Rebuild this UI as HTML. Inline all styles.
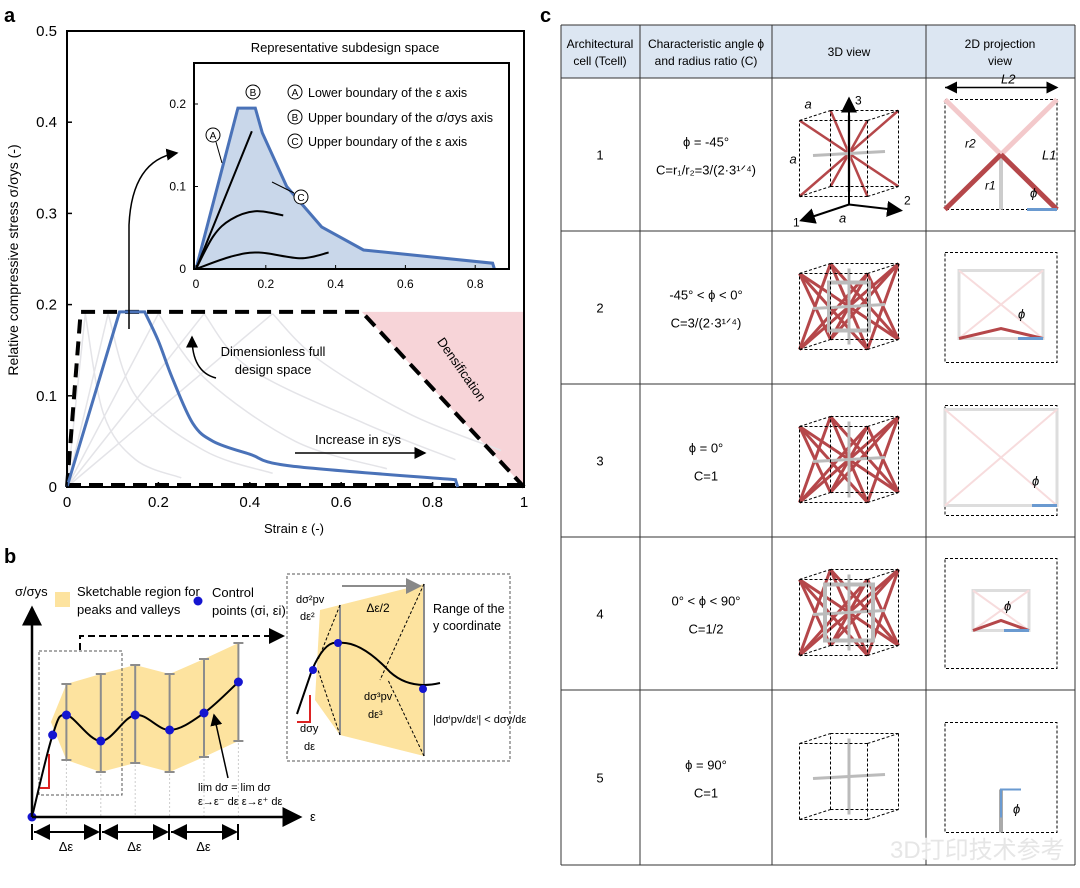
<!DOCTYPE html>
<html><head><meta charset="utf-8"><style>
body{margin:0;background:#fff;width:1080px;height:883px;overflow:hidden;font-family:"Liberation Sans","Noto Sans CJK SC",sans-serif}
svg text{font-family:"Liberation Sans","Noto Sans CJK SC",sans-serif}
</style></head><body>
<svg id="fig" width="1080" height="883" viewBox="0 0 1080 883" xmlns="http://www.w3.org/2000/svg">
<defs>
<marker id="ah" markerWidth="8" markerHeight="8" refX="7" refY="4" orient="auto"><path d="M0,0 L8,4 L0,8 z" fill="#000"/></marker>
<marker id="ahs" markerWidth="8" markerHeight="8" refX="0" refY="4" orient="auto"><path d="M8,0 L0,4 L8,8 z" fill="#000"/></marker>
<marker id="ag" markerWidth="8" markerHeight="8" refX="7" refY="4" orient="auto"><path d="M0,0 L8,4 L0,8 z" fill="#888"/></marker>
</defs>
<text x="4" y="22" font-size="20" font-weight="bold">a</text>
<g id="pa"></g>
<text x="4" y="563" font-size="20" font-weight="bold">b</text>
<g id="pb"></g>
<text x="540" y="22" font-size="20" font-weight="bold">c</text>
<g id="pc"></g>
</svg>
<script>
const NS="http://www.w3.org/2000/svg";
// ---------- panel a data ----------
const mainXTicks=[0,0.2,0.4,0.6,0.8,1];
const mainXTickLabels=["0","0.2","0.4","0.6","0.8","1"];
const mainYTicks=[0,0.1,0.2,0.3,0.4,0.5];
const mainYTickLabels=["0","0.1","0.2","0.3","0.4","0.5"];
const blueEps=[0,0.115,0.17,0.2,0.23,0.275,0.32,0.4,0.49,0.85,0.855];
const blueSig=[0,0.192,0.192,0.16,0.12,0.07,0.05,0.036,0.023,0.008,0];
const designEps=[0,0.03,0.645,1];
const designSig=[0,0.192,0.192,0];
const densEps=[0.645,1,1];
const densSig=[0.192,0.192,0];
const grayLoadEps=[[0,0.04],[0,0.09],[0,0.2],[0,0.3],[0,0.45]];
const grayLoadSig=[[0,0.19],[0,0.19],[0,0.19],[0,0.19],[0,0.19]];
const grayUnloadEps=[[0.04,0.08,0.15,0.25],[0.09,0.15,0.3,0.45],[0.2,0.3,0.5,0.7],[0.3,0.4,0.65,0.85],[0.45,0.55,0.75,0.95]];
const grayUnloadSig=[[0.19,0.08,0.03,0.01],[0.19,0.1,0.04,0.015],[0.19,0.12,0.05,0.02],[0.19,0.13,0.07,0.03],[0.19,0.14,0.08,0.04]];
const insetXTicks=[0,0.2,0.4,0.6,0.8];
const insetXTickLabels=["0","0.2","0.4","0.6","0.8"];
const insetYTicks=[0,0.1,0.2];
const insetYTickLabels=["0","0.1","0.2"];
const insetBlueEps=[0,0.12,0.17,0.19,0.26,0.36,0.48,0.85,0.855];
const insetBlueSig=[0,0.195,0.195,0.165,0.1,0.051,0.023,0.007,0];
const insetLineAEps=[0,0.16];
const insetLineASig=[0,0.167];
const insetLineMEps=[0,0.05,0.1,0.17,0.25];
const insetLineMSig=[0,0.04,0.06,0.07,0.065];
const insetLineLEps=[0,0.1,0.18,0.3,0.38];
const insetLineLSig=[0,0.015,0.02,0.013,0.02];

function el(tag,attrs,parent,text){const e=document.createElementNS(NS,tag);for(const k in attrs)e.setAttribute(k,attrs[k]);if(text!==undefined)e.textContent=text;(parent||document.getElementById('fig')).appendChild(e);return e;}
const pa=document.getElementById('pa');
const X=v=>67+v*457, Y=v=>487-v*912;
const IX=v=>196+v*349, IY=v=>269-v*825;
function pts(xs,ys,fx,fy){return xs.map((x,i)=>fx(x).toFixed(1)+","+fy(ys[i]).toFixed(1)).join(" ");}
function curve(xs,ys,fx,fy){
  const P=xs.map((x,i)=>[fx(x),fy(ys[i])]);let d="M"+P[0][0]+","+P[0][1];
  for(let i=0;i<P.length-1;i++){const p0=P[i-1]||P[i],p1=P[i],p2=P[i+1],p3=P[i+2]||p2;
    d+=` C${p1[0]+(p2[0]-p0[0])/6},${p1[1]+(p2[1]-p0[1])/6} ${p2[0]-(p3[0]-p1[0])/6},${p2[1]-(p3[1]-p1[1])/6} ${p2[0]},${p2[1]}`;}
  return d;}
let e=el('polygon',{points:pts(densEps,densSig,X,Y),fill:'#f7d4d8'},pa);


grayLoadEps.forEach((xs,i)=>{
  let g=el('polyline',{points:pts(xs,grayLoadSig[i],X,Y),fill:'none',stroke:'#e4e4e8','stroke-width':1.5},pa);
  
  
  let u=el('path',{d:curve(grayUnloadEps[i],grayUnloadSig[i],X,Y),fill:'none',stroke:'#e4e4e8','stroke-width':1.5},pa);
  
  
});
e=el('rect',{x:67,y:31,width:457,height:456,fill:'none',stroke:'#000','stroke-width':2},pa);


e=el('polyline',{points:pts(designEps,designSig,X,Y),fill:'none',stroke:'#000','stroke-width':4,'stroke-dasharray':'14 8'},pa);


e=el('line',{x1:X(0),y1:Y(0)-2,x2:X(1),y2:Y(0)-2,stroke:'#000','stroke-width':4,'stroke-dasharray':'14 8'},pa);


e=el('path',{d:"M"+X(blueEps[0])+","+Y(blueSig[0])+" L"+X(blueEps[1])+","+Y(blueSig[1])+" L"+X(blueEps[2])+","+Y(blueSig[2])+curve(blueEps.slice(2,10),blueSig.slice(2,10),X,Y).replace(/^M[^ ]+/,'')+" L"+X(blueEps[10])+","+Y(blueSig[10]),fill:'none',stroke:'#4a72b8','stroke-width':3},pa);


mainXTicks.forEach((t,i)=>{
  el('line',{x1:X(t),y1:487,x2:X(t),y2:482,stroke:'#000','stroke-width':1.5},pa);
  let tl=el('text',{x:X(t),y:507,'font-size':15,'text-anchor':'middle'},pa,mainXTickLabels[i]);
  
  
});
mainYTicks.forEach((t,i)=>{
  el('line',{x1:67,y1:Y(t),x2:72,y2:Y(t),stroke:'#000','stroke-width':1.5},pa);
  let tl=el('text',{x:57,y:Y(t)+5,'font-size':15,'text-anchor':'end'},pa,mainYTickLabels[i]);
  
  
});
e=el('text',{x:294,y:533,'font-size':13,'text-anchor':'middle'},pa,'Strain ε (-)');

e=el('text',{x:0,y:0,'font-size':14,'text-anchor':'middle',transform:'translate(18,260) rotate(-90)'},pa,'Relative compressive stress σ/σys (-)');

e=el('text',{x:345,y:52,'font-size':13,'text-anchor':'middle'},pa,'Representative subdesign space');

e=el('polygon',{points:pts(insetBlueEps,insetBlueSig,IX,IY),fill:'#c9d7ea'},pa);

e=el('polyline',{points:pts(insetBlueEps,insetBlueSig,IX,IY),fill:'none',stroke:'#4a72b8','stroke-width':3},pa);

e=el('rect',{x:194,y:63,width:315,height:206,fill:'none',stroke:'#000','stroke-width':2},pa);

[[insetLineAEps,insetLineASig],[insetLineMEps,insetLineMSig],[insetLineLEps,insetLineLSig]].forEach(([xs,ys])=>{
  let c=el('path',{d:curve(xs,ys,IX,IY),fill:'none',stroke:'#000','stroke-width':2},pa);
  
  
});
insetXTicks.forEach((t,i)=>{
  el('line',{x1:IX(t),y1:269,x2:IX(t),y2:265,stroke:'#000'},pa);
  let tl=el('text',{x:IX(t),y:288,'font-size':12,'text-anchor':'middle'},pa,insetXTickLabels[i]);
  
  
});
insetYTicks.forEach((t,i)=>{
  el('line',{x1:194,y1:IY(t),x2:198,y2:IY(t),stroke:'#000'},pa);
  let tl=el('text',{x:186,y:IY(t)+4,'font-size':12,'text-anchor':'end'},pa,insetYTickLabels[i]);
  
  
});
[['A','Lower boundary of the ε axis',97],['B','Upper boundary of the σ/σys axis',122],['C','Upper boundary of the ε axis',146]].forEach(([l,t,y])=>{
  el('circle',{cx:295,cy:y-5,r:7,fill:'none',stroke:'#000'},pa);
  el('text',{x:295,y:y-1,'font-size':10,'text-anchor':'middle'},pa,l);
  let tl=el('text',{x:308,y:y,'font-size':12.5},pa,t);
  
  
});
[['A',213,135],['B',253,92],['C',301,197]].forEach(([l,x,y])=>{el('circle',{cx:x,cy:y,r:7,fill:'#fff',stroke:'#000'},pa);el('text',{x:x,y:y+4,'font-size':10,'text-anchor':'middle'},pa,l);});
el('line',{x1:216,y1:142,x2:222,y2:163,stroke:'#000'},pa);
el('line',{x1:294,y1:193,x2:272,y2:182,stroke:'#000'},pa);
el('path',{d:'M129,329 L129,225 Q132,160 177,153',fill:'none',stroke:'#000','stroke-width':1.5,'marker-end':'url(#ah)'},pa);
el('path',{d:'M216,378 Q192,372 192,337',fill:'none',stroke:'#000','stroke-width':1.5,'marker-end':'url(#ah)'},pa);
e=el('text',{x:273,y:356,'font-size':13,'text-anchor':'middle'},pa,'Dimensionless full');

el('text',{x:273,y:374,'font-size':13,'text-anchor':'middle'},pa,'design space');
e=el('text',{x:0,y:0,'font-size':13,'text-anchor':'middle',transform:'translate(458,372) rotate(55)'},pa,'Densification');

e=el('text',{x:358,y:444,'font-size':13,'text-anchor':'middle'},pa,'Increase in εys');

el('line',{x1:295,y1:453,x2:425,y2:453,stroke:'#000','stroke-width':1.5,'marker-end':'url(#ah)'},pa);

// ---------- panel b data ----------
const cpEps=[0,0.6,1,2,3,4,5,6];
const cpSig=[0,0.82,1.02,0.76,1.02,0.87,1.04,1.35];
const barEps=[1,2,3,4,5,6];
const barTop=[1.33,1.43,1.52,1.43,1.58,1.74];
const barBot=[0.57,0.45,0.54,0.45,0.6,0.76];
const pb=document.getElementById('pb');
const BX=v=>32+v*34.4, BY=v=>817-v*100;
e=el('polygon',{points:barEps.map((x,i)=>BX(x)+","+BY(barTop[i])).join(" ")+" "+barEps.slice().reverse().map((x,j)=>BX(x)+","+BY(barBot[barBot.length-1-j])).join(" ")+" "+BX(0.55)+","+BY(0.95),fill:'#fde39f'},pb);

barEps.forEach((x,i)=>{
  el('line',{x1:BX(x),y1:BY(barTop[i]),x2:BX(x),y2:817,stroke:'#ccc','stroke-dasharray':'2 2'},pb);
  let b=el('line',{x1:BX(x),y1:BY(barTop[i]),x2:BX(x),y2:BY(barBot[i]),stroke:'#8c8c8c','stroke-width':2},pb);
  
  
  el('line',{x1:BX(x)-5,y1:BY(barTop[i]),x2:BX(x)+5,y2:BY(barTop[i]),stroke:'#8c8c8c','stroke-width':2},pb);
  el('line',{x1:BX(x)-5,y1:BY(barBot[i]),x2:BX(x)+5,y2:BY(barBot[i]),stroke:'#8c8c8c','stroke-width':2},pb);
});
el('rect',{x:39,y:651,width:83,height:144,fill:'none',stroke:'#555','stroke-dasharray':'3 2'},pb);
el('polyline',{points:'40,788 49,788 49,754',fill:'none',stroke:'#d22','stroke-width':2},pb);
e=el('path',{d:curve(cpEps,cpSig,BX,BY),fill:'none',stroke:'#000','stroke-width':2},pb);

cpEps.forEach((x,i)=>{
  let c=el('circle',{cx:BX(x),cy:BY(cpSig[i]),r:4.5,fill:'#1515d0'},pb);
  
  
});
el('line',{x1:32,y1:817,x2:32,y2:608,stroke:'#000','stroke-width':2.5,'marker-end':'url(#ah)'},pb);
el('line',{x1:32,y1:817,x2:300,y2:817,stroke:'#000','stroke-width':2.5,'marker-end':'url(#ah)'},pb);
el('text',{x:15,y:596,'font-size':13},pb,'σ/σys');
el('text',{x:310,y:821,'font-size':13},pb,'ε');
el('rect',{x:55,y:592,width:15,height:15,fill:'#fde39f'},pb);
e=el('text',{x:77,y:596,'font-size':13},pb,'Sketchable region for');

el('text',{x:77,y:614,'font-size':13},pb,'peaks and valleys');
el('circle',{cx:198,cy:601,r:4.5,fill:'#1515d0'},pb);
e=el('text',{x:212,y:597,'font-size':13},pb,'Control');

el('text',{x:212,y:615,'font-size':13},pb,'points (σi, εi)');
el('polyline',{points:'80,650 80,636 283,636',fill:'none',stroke:'#000','stroke-width':2,'stroke-dasharray':'7 4','marker-end':'url(#ah)'},pb);
[[32,100],[100,169],[169,238]].forEach(([a,b])=>{
  el('line',{x1:a+2,y1:832,x2:b-2,y2:832,stroke:'#000','stroke-width':2,'marker-end':'url(#ah)','marker-start':'url(#ahs)'},pb);
  el('line',{x1:a,y1:824,x2:a,y2:840,stroke:'#000','stroke-width':2},pb);
  el('line',{x1:b,y1:824,x2:b,y2:840,stroke:'#000','stroke-width':2},pb);
  el('text',{x:(a+b)/2,y:851,'font-size':13,'text-anchor':'middle'},pb,'Δε');
});
el('text',{x:198,y:791,'font-size':11},pb,'lim  dσ  =  lim  dσ');
el('text',{x:198,y:805,'font-size':11},pb,'ε→ε⁻ dε      ε→ε⁺ dε');
el('line',{x1:228,y1:778,x2:214,y2:715,stroke:'#000','stroke-width':1.5,'marker-end':'url(#ah)'},pb);
el('rect',{x:287,y:574,width:223,height:187,fill:'none',stroke:'#555','stroke-dasharray':'3 2'},pb);
el('polygon',{points:'320,610 340,605 424,584 424,756 340,735 315,700',fill:'#fde39f'},pb);
el('line',{x1:340,y1:605,x2:340,y2:735,stroke:'#8c8c8c','stroke-width':2},pb);
el('line',{x1:424,y1:584,x2:424,y2:756,stroke:'#8c8c8c','stroke-width':2},pb);
el('line',{x1:342,y1:586,x2:420,y2:586,stroke:'#8c8c8c','stroke-width':2,'marker-end':'url(#ag)'},pb);
el('text',{x:378,y:612,'font-size':12,'text-anchor':'middle'},pb,'Δε/2');
el('path',{d:'M297,714 L312,670 Q325,640 338,643 Q360,640 390,672 Q410,690 440,683',fill:'none',stroke:'#000','stroke-width':2},pb);
el('circle',{cx:313,cy:670,r:4,fill:'#1515d0'},pb);
el('circle',{cx:338,cy:643,r:4,fill:'#1515d0'},pb);
el('circle',{cx:423,cy:689,r:4,fill:'#1515d0'},pb);
el('polyline',{points:'297,722 310,722 310,695',fill:'none',stroke:'#d22','stroke-width':2},pb);
el('line',{x1:340,y1:605,x2:318,y2:660,stroke:'#000','stroke-dasharray':'3 2'},pb);
el('line',{x1:424,y1:584,x2:380,y2:680,stroke:'#000','stroke-dasharray':'3 2'},pb);
el('line',{x1:340,y1:735,x2:318,y2:670,stroke:'#000','stroke-dasharray':'3 2'},pb);
el('line',{x1:424,y1:756,x2:388,y2:680,stroke:'#000','stroke-dasharray':'3 2'},pb);
el('text',{x:296,y:603,'font-size':11},pb,'dσ²pv');
el('text',{x:300,y:620,'font-size':11},pb,'dε²');
el('text',{x:364,y:700,'font-size':11},pb,'dσ³pv');
el('text',{x:368,y:718,'font-size':11},pb,'dε³');
el('text',{x:300,y:732,'font-size':11},pb,'dσy');
el('text',{x:304,y:750,'font-size':11},pb,'dε');
el('text',{x:433,y:723,'font-size':11},pb,'|dσⁱpv/dεⁱ| < dσy/dε');
el('text',{x:433,y:613,'font-size':12.5},pb,'Range of the');
el('text',{x:433,y:630,'font-size':12.5},pb,'y coordinate');

// ---------- panel c data ----------
const pc=document.getElementById('pc');
const colX=[561,640,772,926,1075];
const rowY=[25,78,231,384,537,690,865];
const cellIds=["1","2","3","4","5"];
const angleTexts=["ϕ = -45°","-45° < ϕ < 0°","ϕ = 0°","0° < ϕ < 90°","ϕ = 90°"];
const ratioTexts=["C=r₁/r₂=3/(2·3¹ᐟ⁴)","C=3/(2·3¹ᐟ⁴)","C=1","C=1/2","C=1"];
e=el('rect',{x:561,y:25,width:514,height:53,fill:'#dce6f2'},pc);

colX.forEach(x=>el('line',{x1:x,y1:25,x2:x,y2:865,stroke:'#333','stroke-width':1},pc));
rowY.forEach(y=>el('line',{x1:561,y1:y,x2:1075,y2:y,stroke:'#333','stroke-width':1},pc));
[['Architectural','cell (Tcell)',600],['Characteristic angle ϕ','and radius ratio (C)',706],['3D view','',849],['2D projection','view',1000]].forEach(([a,b,x])=>{
  let h=el('text',{x:x,y:b?48:56,'font-size':12,'text-anchor':'middle'},pc,a);
  
  
  if(b)el('text',{x:x,y:65,'font-size':12,'text-anchor':'middle'},pc,b);
});
cellIds.forEach((id,i)=>{
  const cy=(rowY[i+1]+rowY[i+2])/2;
  let t=el('text',{x:600,y:cy+5,'font-size':13,'text-anchor':'middle'},pc,id);
  
  
  t=el('text',{x:706,y:cy-8,'font-size':13,'text-anchor':'middle'},pc,angleTexts[i]);
  
  
  t=el('text',{x:706,y:cy+20,'font-size':13,'text-anchor':'middle'},pc,ratioTexts[i]);
  
  
  const cx=849, sx=68, sy=76, dx=31, dy=-10, x0=cx-(sx+dx)/2, y0=cy-34;
  const F=[[x0,y0],[x0+sx,y0],[x0+sx,y0+sy],[x0,y0+sy]];
  const B=F.map(p=>[p[0]+dx,p[1]+dy]);
  const g=el('g',{},pc);
  
  
  const ccx=x0+(sx+dx)/2, ccy=y0+(sy+dy)/2;
  if(i<4){
    const red=[[F[0],B[2]],[F[1],B[3]],[F[3],B[1]],[F[2],B[0]]];
    if(i>0){red.push([F[0],F[2]],[F[1],F[3]],[B[0],B[2]],[B[1],B[3]],[F[0],B[3]],[F[3],B[0]],[F[1],B[2]],[F[2],B[1]]);}
    red.forEach(([p,q])=>el('line',{x1:p[0],y1:p[1],x2:q[0],y2:q[1],stroke:'#b5474a','stroke-width':i===0?2.5:3},g));
    if(i===1||i===3){const m=i===1?14:10;el('rect',{x:ccx-sx/2+m,y:ccy-sy/2+m,width:sx-2*m,height:sy-2*m,fill:'none',stroke:'#bbb','stroke-width':4},g);}
  }
  el('line',{x1:ccx,y1:ccy-38,x2:ccx,y2:ccy+38,stroke:'#bbb','stroke-width':3},g);
  el('line',{x1:ccx-36,y1:ccy+2,x2:ccx+36,y2:ccy-2,stroke:'#bbb','stroke-width':3},g);
  for(let k=0;k<4;k++){el('line',{x1:F[k][0],y1:F[k][1],x2:F[(k+1)%4][0],y2:F[(k+1)%4][1],stroke:'#000','stroke-dasharray':'3 2'},g);
    el('line',{x1:B[k][0],y1:B[k][1],x2:B[(k+1)%4][0],y2:B[(k+1)%4][1],stroke:'#000','stroke-dasharray':'3 2'},g);
    el('line',{x1:F[k][0],y1:F[k][1],x2:B[k][0],y2:B[k][1],stroke:'#000','stroke-dasharray':'3 2'},g);}
  if(i===0){
    el('line',{x1:ccx,y1:y0+sy+8,x2:ccx,y2:y0-22,stroke:'#000','stroke-width':2,'marker-end':'url(#ah)'},g);
    el('line',{x1:ccx,y1:y0+sy+8,x2:ccx+52,y2:y0+sy+14,stroke:'#000','stroke-width':2,'marker-end':'url(#ah)'},g);
    el('line',{x1:ccx,y1:y0+sy+8,x2:ccx-48,y2:y0+sy+24,stroke:'#000','stroke-width':2,'marker-end':'url(#ah)'},g);
    el('text',{x:ccx+6,y:y0-16,'font-size':12},g,'3');
    el('text',{x:ccx+55,y:y0+sy+8,'font-size':12},g,'2');
    el('text',{x:ccx-56,y:y0+sy+30,'font-size':12},g,'1');
    el('text',{x:x0+5,y:y0-12,'font-size':13,'font-style':'italic'},g,'a');
    el('text',{x:x0-10,y:y0+sy/2+5,'font-size':13,'font-style':'italic'},g,'a');
    el('text',{x:ccx-10,y:y0+sy+26,'font-size':13,'font-style':'italic'},g,'a');
  }
  const g2=el('g',{},pc);
  
  
  const px=945, py=cy-55, pw=112, ph=110;
  el('rect',{x:px,y:py,width:pw,height:ph,fill:'none',stroke:'#000','stroke-dasharray':'3 2'},g2);
  if(i===0){el('line',{x1:px,y1:py,x2:px+pw,y2:py+ph,stroke:'#f3c9cb','stroke-width':5},g2);
    el('line',{x1:px+pw,y1:py,x2:px+pw/2,y2:py+ph/2,stroke:'#f3c9cb','stroke-width':5},g2);
    el('line',{x1:px+pw/2,y1:py+ph/2,x2:px+pw/2,y2:py+ph,stroke:'#ccc','stroke-width':4},g2);
    el('line',{x1:px,y1:py+ph,x2:px+pw/2,y2:py+ph/2,stroke:'#b5474a','stroke-width':5},g2);
    el('line',{x1:px+pw/2,y1:py+ph/2,x2:px+pw,y2:py+ph,stroke:'#b5474a','stroke-width':5},g2);
    el('line',{x1:px+pw-30,y1:py+ph,x2:px+pw,y2:py+ph,stroke:'#6a9ad0','stroke-width':3},g2);
    el('line',{x1:px,y1:py-12,x2:px+pw,y2:py-12,stroke:'#000','stroke-width':1.5,'marker-end':'url(#ah)','marker-start':'url(#ahs)'},g2);
    el('text',{x:px+pw/2,y:py-16,'font-size':13,'font-style':'italic'},g2,'L2');
    el('text',{x:px+pw-15,y:py+60,'font-size':13,'font-style':'italic'},g2,'L1');
    el('text',{x:px+20,y:py+48,'font-size':12,'font-style':'italic'},g2,'r2');
    el('text',{x:px+40,y:py+90,'font-size':12,'font-style':'italic'},g2,'r1');
    el('text',{x:px+85,y:py+98,'font-size':13,'font-style':'italic'},g2,'ϕ');
  } else if(i===4){el('line',{x1:px+pw/2,y1:py+ph/2+12,x2:px+pw/2,y2:py+ph,stroke:'#aaa','stroke-width':4},g2);
    el('polyline',{points:`${px+pw/2+20},${py+ph/2+12} ${px+pw/2},${py+ph/2+12} ${px+pw/2},${py+ph/2+40}`,fill:'none',stroke:'#6a9ad0','stroke-width':2},g2);
    el('text',{x:px+pw/2+12,y:py+ph/2+36,'font-size':13,'font-style':'italic'},g2,'ϕ');
  } else {const m=i===2?0:(i===3?28:14);
    el('rect',{x:px+m,y:py+m+4,width:pw-2*m,height:ph-2*m-14,fill:'none',stroke:'#ddd','stroke-width':3},g2);
    el('line',{x1:px+m,y1:py+m+4,x2:px+pw-m,y2:py+ph-m-10,stroke:'#f7dcdd','stroke-width':2},g2);
    el('line',{x1:px+pw-m,y1:py+m+4,x2:px+m,y2:py+ph-m-10,stroke:'#f7dcdd','stroke-width':2},g2);
    if(i!==2){el('polyline',{points:`${px+m},${py+ph-m-10} ${px+pw/2},${py+ph-m-20} ${px+pw-m},${py+ph-m-10}`,fill:'none',stroke:'#b5474a','stroke-width':3},g2);}
    el('line',{x1:px+pw-m-25,y1:py+ph-m-10,x2:px+pw-m,y2:py+ph-m-10,stroke:'#6a9ad0','stroke-width':3},g2);
    el('text',{x:px+pw-m-25,y:py+ph-m-30,'font-size':13,'font-style':'italic'},g2,'ϕ');}
});
el('text',{x:890,y:858,'font-size':24,fill:'#e6e6e6'},pc,'3D打印技术参考');
</script>
</body></html>
